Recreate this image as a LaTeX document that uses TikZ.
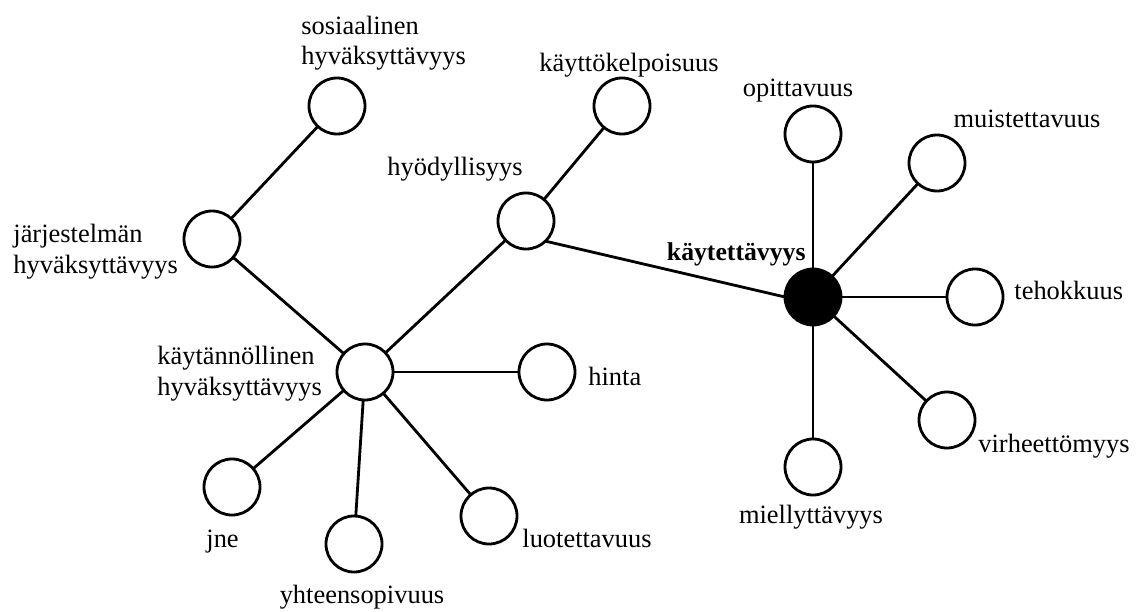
\documentclass[tikz,border=0pt]{standalone}
\usepackage{fontspec}
\setmainfont{Liberation Serif}
\usetikzlibrary{positioning}
\begin{document}
\begin{tikzpicture}[x=0.025cm,y=-0.025cm,line join=round,line cap=round,line width=2pt,
	pallo/.style={circle,draw,fill=white,minimum size=1.4cm,inner sep=0pt,outer sep=0pt},
	teksti/.style={font=\fontsize{18.8}{22}\selectfont,inner sep=0pt,align=left}]
	\useasboundingbox (0,0) rectangle (1136,611);
	\foreach \n/\x/\y in {sos/337/106,jarj/212/239,hyod/526/221,kayttok/622/106,kaytann/365/372,hinta/547/372,jne/232/487,yht/354/544,luot/489/516,opit/813/134,muist/937/163,teho/975/297,virhe/947/420,miell/813/467}{\node[pallo] (\n) at (\x,\y) {};}
	\node[pallo,fill=black] (kayt) at (813,297) {};
	\foreach \a/\b in {sos/jarj,jarj/kaytann,kaytann/hyod,hyod/kayttok,kaytann/hinta,kaytann/jne,kaytann/yht,kaytann/luot,kayt/opit,kayt/muist,kayt/teho,kayt/virhe,kayt/miell}{\draw (\a)--(\b);}
	\draw (hyod.-46)--(kayt.west);
	% tekstit
	\node[teksti,anchor=base west] (tsos) at (300,65) {sosiaalinen\\hyväksyttävyys};
	\node[teksti,anchor=base] (tkayttok) at (629,71) {käyttökelpoisuus};
	\node[teksti,anchor=base] (thyod) at (455,175) {hyödyllisyys};
	\node[teksti,anchor=base west] (tjarj) at (12,273) {järjestelmän\\hyväksyttävyys};
	\node[teksti,anchor=base west] (tkaytann) at (156,395) {käytännöllinen\\hyväksyttävyys};
	\node[teksti,anchor=base west] (thinta) at (587,385) {hinta};
	\node[teksti,anchor=base west] (tjne) at (205,547) {jne};
	\node[teksti,anchor=base] (tyht) at (362,603) {yhteensopivuus};
	\node[teksti,anchor=base west] (tluot) at (521,547) {luotettavuus};
	\node[teksti,anchor=base east,font=\fontsize{18.3}{21}\selectfont\bfseries] (tkayt) at (807,260) {käytettävyys};
	\node[teksti,anchor=base] (topit) at (798,97) {opittavuus};
	\node[teksti,anchor=base] (tmuist) at (1027,127) {muistettavuus};
	\node[teksti,anchor=base west] (tteho) at (1013,299) {tehokkuus};
	\node[teksti,anchor=base west] (tvirhe) at (977,452) {virheettömyys};
	\node[teksti,anchor=base] (tmiell) at (811,523) {miellyttävyys};
\end{tikzpicture}
\end{document}
